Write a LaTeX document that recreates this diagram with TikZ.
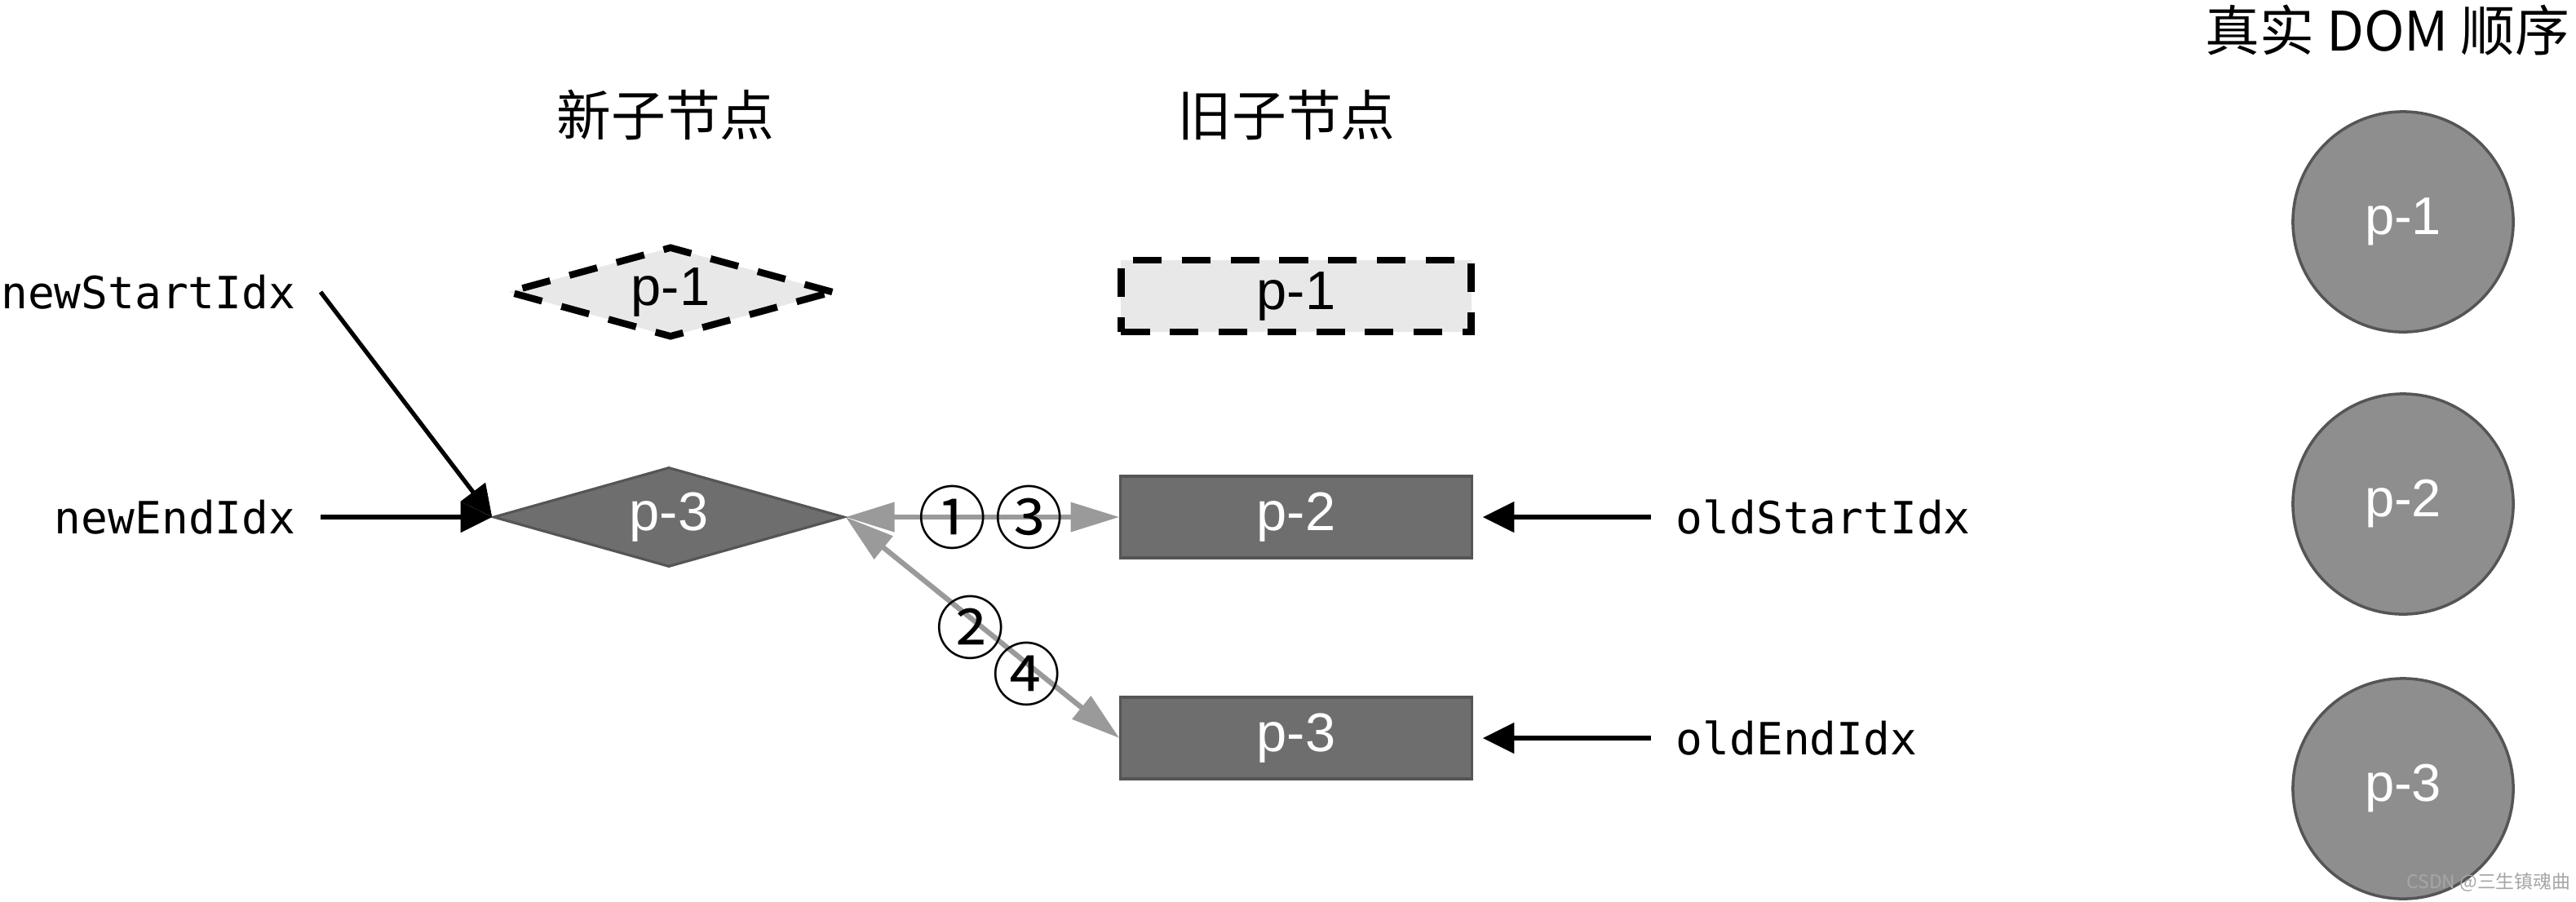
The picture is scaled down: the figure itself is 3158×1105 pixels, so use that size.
\documentclass[tikz,border=0pt]{standalone}
\usepackage{fontspec}
\setmainfont{Liberation Sans}
\setmonofont{DejaVu Sans Mono}
\newfontfamily\cjk{Noto Sans CJK SC}
\usepackage{tikz}
\usetikzlibrary{arrows.meta}
\usetikzlibrary{shapes.geometric}
\definecolor{dark}{RGB}{110,110,110}
\definecolor{rim}{RGB}{85,85,85}
\definecolor{pale}{RGB}{232,232,232}
\definecolor{dom}{RGB}{142,142,142}
\definecolor{link}{RGB}{154,154,154}

\begin{document}
\begin{tikzpicture}[x=0.01cm,y=-0.01cm,
  vnode/.style={draw=rim,fill=dark,line width=0.9pt,text=white,font=\fontsize{19}{19}\selectfont},
  gone/.style={draw=black,fill=pale,line width=2.4pt,dash pattern=on 10pt off 7pt,font=\fontsize{19}{19}\selectfont},
  dia/.style={diamond,inner sep=0pt,aspect=3.5},
  box/.style={rectangle,minimum width=4.3cm,minimum height=1cm},
  real/.style={circle,draw=rim,fill=dom,line width=1pt,minimum size=2.7cm,text=white,font=\fontsize{18.5}{18.5}\selectfont},
  idx/.style={font=\ttfamily\fontsize{15.5}{15.5}\selectfont,inner xsep=0.3cm},
  head/.style={font=\cjk\fontsize{19}{19}\selectfont},
  order/.style={font=\cjk\fontsize{24}{24}\selectfont,inner sep=0pt},
  ptr/.style={line width=1.5pt,-{Triangle[length=11pt,width=10.5pt]}},
  cmp/.style={color=link,line width=1.8pt,{Triangle[length=17pt,width=10pt]}-{Triangle[length=17pt,width=10pt]}}]
\useasboundingbox (0,0) rectangle (3158,1105);

\node[head] (hnew) at (816,141) {新子节点};
\node[head] (hold) at (1577,141) {旧子节点};
\node[head] (hdom) at (2927,37) {真实 DOM 顺序};

\node[gone,dia,minimum width=4cm,minimum height=1.12cm] (n1) at (822,358) {p-1};
\node[vnode,dia,minimum width=4.3cm,minimum height=1.22cm] (n3) at (820,634) {p-3};

\node[gone,box,minimum width=4.29cm,minimum height=0.88cm] (o1) at (1589,363) {p-1};
\node[vnode,box] (o2) at (1589,634) {p-2};
\node[vnode,box] (o3) at (1589,905) {p-3};

\node[real] (r1) at (2946,272) {p-1};
\node[real] (r2) at (2946,618) {p-2};
\node[real] (r3) at (2946,967) {p-3};

\node[idx,anchor=east] (nsi) at (393,358) {newStartIdx};
\node[idx,anchor=east] (nei) at (393,634) {newEndIdx};
\node[idx,anchor=west] (osi) at (2024,634) {oldStartIdx};
\node[idx,anchor=west] (oei) at (2024,905) {oldEndIdx};

\draw[ptr] (nsi.east) -- (n3.west);
\draw[ptr] (nei.east) -- (n3.west);
\draw[ptr,shorten >=0.12cm] (osi.west) -- (o2.east);
\draw[ptr,shorten >=0.12cm] (oei.west) -- (o3.east);

\draw[cmp] (n3.east) -- (o2.west)
  node[order,text=black,pos=0.39] {①} node[order,text=black,pos=0.67] {③};
\draw[cmp] (n3.east) -- (o3.west)
  node[order,text=black,pos=0.5,xshift=-0.15cm] {②} node[order,text=black,pos=0.71,xshift=-0.16cm] {④};

\node[font=\cjk\fontsize{6.5}{6.5}\selectfont,text=black!35,anchor=east,inner sep=0pt] (mark) at (3152,1082) {CSDN @三生镇魂曲};
\end{tikzpicture}
\end{document}
